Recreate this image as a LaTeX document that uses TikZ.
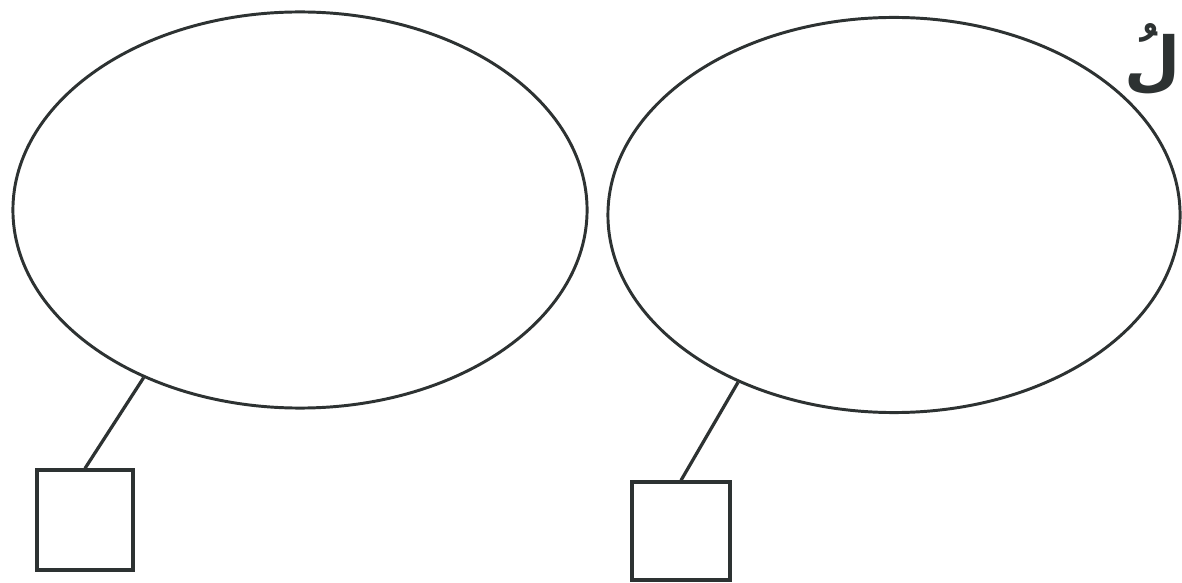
\documentclass[tikz,border=0pt]{standalone}
\usepackage{fontspec}
\usepackage{xcolor}
\usepackage{tikz}
\usetikzlibrary{positioning, shapes.geometric}
\newfontfamily\arabicfont[Script=Arabic]{DejaVu Sans}
\TeXXeTstate=1
\definecolor{InkGray}{RGB}{45, 50, 50}

\tikzset{
  oval/.style={draw=InkGray, ellipse, line width=2.1pt, inner sep=0pt},
  answerbox/.style={draw=InkGray, rectangle, line width=2.3pt, inner sep=0pt},
  stem/.style={draw=InkGray, line width=2.3pt}
}

\begin{document}
\begin{tikzpicture}[x=0.025cm, y=-0.025cm]
      % page frame, pixel units with y down
      \fill[white] (0,0) rectangle (1182,583);
      \useasboundingbox (0,0) rectangle (1182,583);

      \node[oval, minimum width=14.35cm, minimum height=9.9cm] (leftOval) at (300,210) {};
      \node[oval, minimum width=14.3cm, minimum height=9.875cm] (rightOval) at (894,215) {};

      \node[answerbox, minimum width=2.4cm, minimum height=2.5cm] (leftBox) at (85,520) {};
      \node[answerbox, minimum width=2.45cm, minimum height=2.45cm] (rightBox) at (681,531) {};

      \draw[stem] (leftOval.227) -- (leftBox.north);
      \draw[stem] (rightOval.227) -- (rightBox.north);

      % letter at the page edge
      \node[anchor=base east, inner sep=0pt, text=InkGray] (edgeText) at (1181,84)
        {\fontsize{46}{50}\selectfont\arabicfont\bfseries\beginR لُ\endR};
    \end{tikzpicture}
\end{document}
